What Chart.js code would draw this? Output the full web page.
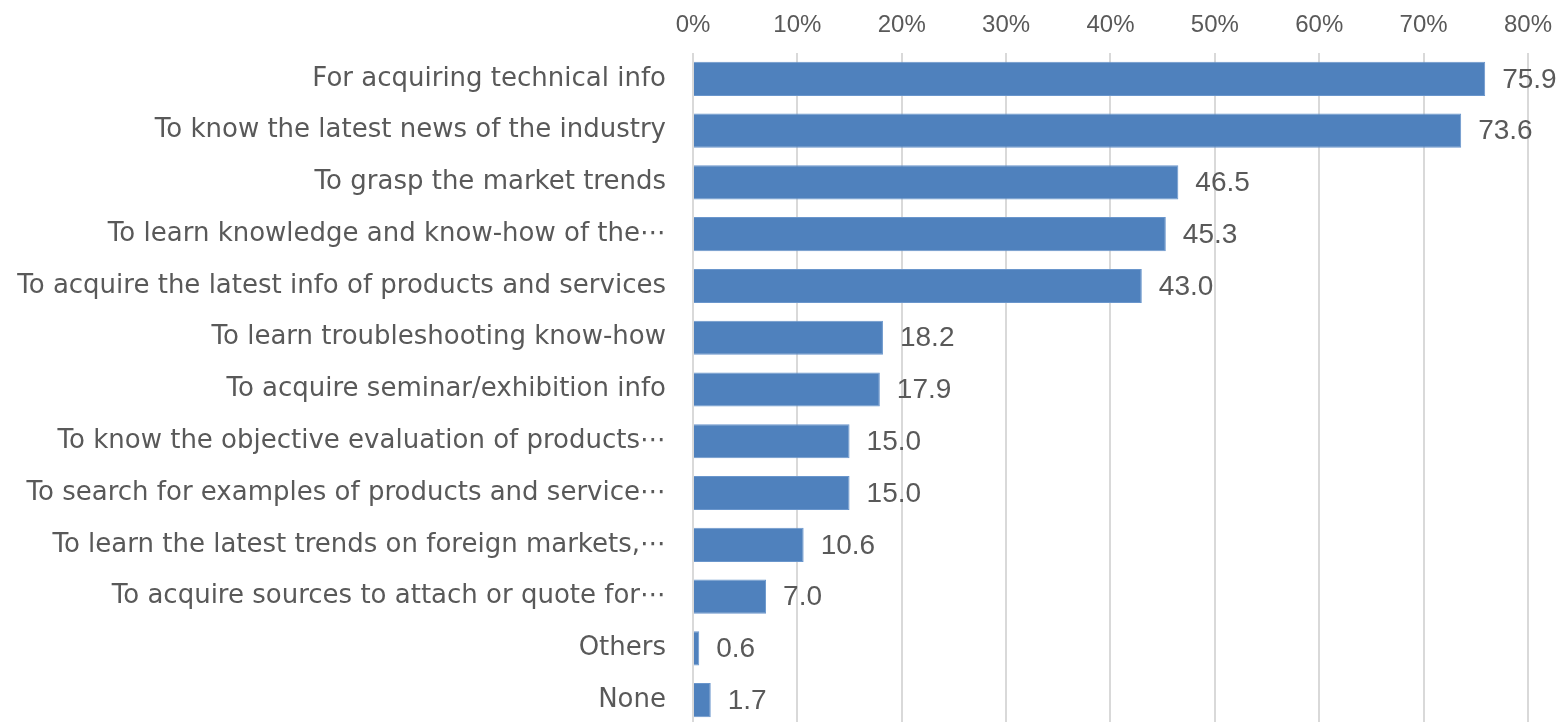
<!DOCTYPE html>
<html lang="en">
<head>
    <meta charset="UTF-8">
    <title>Reasons for reading</title>
    <script src="https://cdn.jsdelivr.net/npm/chart.js"></script>
    <style>
        html, body {
            margin: 0;
            padding: 0;
            background: #fff;
            overflow: hidden;
        }
        canvas {
            display: block;
        }
    </style>
</head>
<body>
    <canvas id="myChart" width="1565" height="726"></canvas>

    <script>
        const categories = [
            'For acquiring technical info',
            'To know the latest news of the industry',
            'To grasp the market trends',
            'To learn knowledge and know-how of the\u22EF',
            'To acquire the latest info of products and services',
            'To learn troubleshooting know-how',
            'To acquire seminar/exhibition info',
            'To know the objective evaluation of products\u22EF',
            'To search for examples of products and service\u22EF',
            'To learn the latest trends on foreign markets,\u22EF',
            'To acquire sources to attach or quote for\u22EF',
            'Others',
            'None'
        ];
        const percentages = [75.9, 73.6, 46.5, 45.3, 43.0, 18.2, 17.9, 15.0, 15.0, 10.6, 7.0, 0.6, 1.7];

        const textColor = '#595959';
        const numFont = '"Liberation Sans", Arial, sans-serif';
        const labelFont = '"DejaVu Sans", Verdana, sans-serif';

        // value labels next to each bar
        const valueLabels = {
            id: 'valueLabels',
            afterDatasetsDraw(chart) {
                const ctx = chart.ctx;
                const meta = chart.getDatasetMeta(0);
                ctx.save();
                ctx.fillStyle = textColor;
                ctx.font = '28px ' + numFont;
                ctx.textAlign = 'left';
                ctx.textBaseline = 'middle';
                meta.data.forEach((bar, i) => {
                    ctx.fillText(percentages[i].toFixed(1), bar.x + 17, bar.y + 1);
                });
                ctx.restore();
            }
        };

        const ctx = document.getElementById('myChart').getContext('2d');
        const myChart = new Chart(ctx, {
            type: 'bar',
            data: {
                labels: categories,
                datasets: [{
                    data: percentages,
                    backgroundColor: '#4F81BD',
                    borderColor: '#6a96cc',
                    borderWidth: 1,
                    categoryPercentage: 1,
                    barPercentage: 0.66
                }]
            },
            options: {
                indexAxis: 'y',
                responsive: false,
                animation: false,
                layout: {
                    padding: { top: 0, right: 36, bottom: 0, left: 0 }
                },
                plugins: {
                    legend: { display: false },
                    tooltip: { enabled: false }
                },
                scales: {
                    x: {
                        position: 'top',
                        min: 0,
                        max: 80,
                        ticks: {
                            stepSize: 10,
                            color: textColor,
                            font: { size: 24, family: numFont },
                            padding: 13,
                            callback: v => v + '%'
                        },
                        grid: {
                            color: '#d9d9d9',
                            lineWidth: 2,
                            drawTicks: false
                        },
                        border: { display: false },
                        afterFit: s => { s.height = 53; }
                    },
                    y: {
                        ticks: {
                            color: textColor,
                            font: { size: 26, family: labelFont },
                            padding: 27,
                            autoSkip: false
                        },
                        grid: { display: false, drawTicks: false },
                        border: { display: false },
                        afterFit: s => {
                            s.width = 693;
                            s.paddingTop = 0;
                            s.paddingBottom = 0;
                        }
                    }
                }
            },
            plugins: [valueLabels]
        });
    </script>
</body>
</html>
